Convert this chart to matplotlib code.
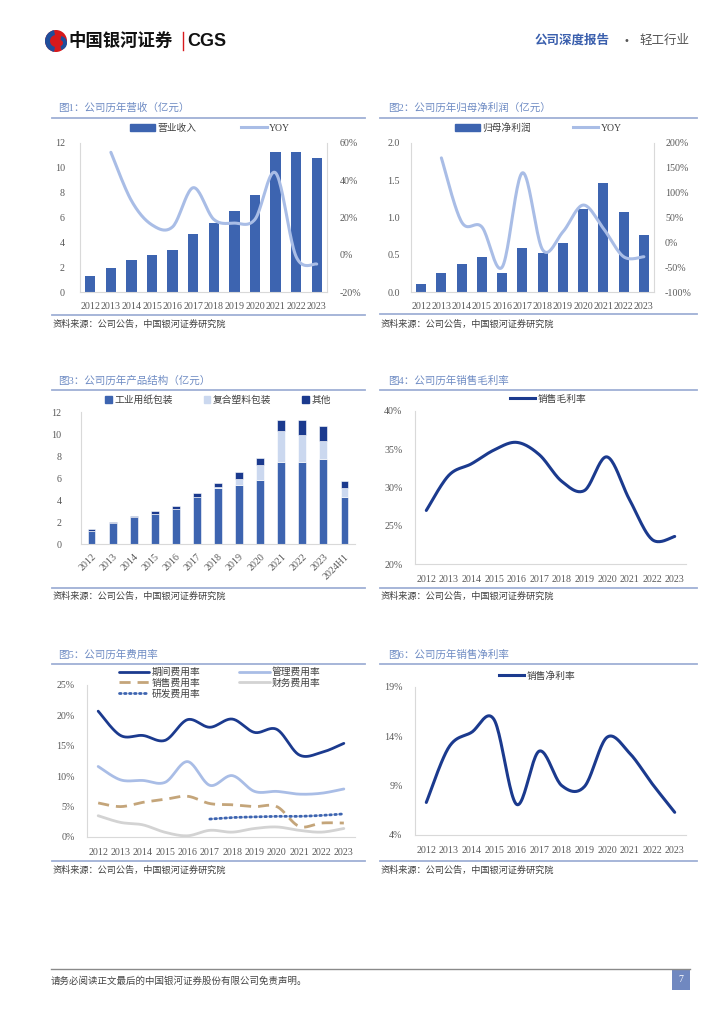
import numpy as np
import matplotlib.pyplot as plt
from matplotlib.patches import Rectangle, Circle, Wedge, Patch
from matplotlib.lines import Line2D

plt.rcParams['font.family'] = ['Liberation Serif', 'Noto Sans CJK SC', 'DejaVu Sans']
plt.rcParams['axes.unicode_minus'] = False

# ---- data ----
years = [str(y) for y in range(2012, 2024)]
years_h1 = years + ['2024H1']

revenue = [1.32, 1.96, 2.55, 2.95, 3.41, 4.64, 5.56, 6.52, 7.84, 11.27, 11.28, 10.77]
revenue_yoy = [55, 29, 16, 15, 36, 19, 17, 19, 44, -1, -5]          # 2013-2023, %

profit = [0.11, 0.26, 0.37, 0.47, 0.255, 0.59, 0.53, 0.66, 1.12, 1.46, 1.08, 0.765]
profit_yoy = [170, 41, 31, -50, 140, -15, 21, 75, 28, -29, -29]     # 2013-2023, %

paper = [1.22, 1.88, 2.42, 2.69, 3.17, 4.26, 5.05, 5.35, 5.80, 7.49, 7.43, 7.70, 4.29]
plastic = [0.00, 0.00, 0.00, 0.05, 0.00, 0.00, 0.12, 0.60, 1.42, 2.78, 2.51, 1.64, 0.81]
other = [0.10, 0.13, 0.13, 0.25, 0.27, 0.42, 0.36, 0.55, 0.57, 1.03, 1.36, 1.42, 0.67]

gross_margin = [27.0, 31.6, 33.1, 34.9, 35.9, 34.3, 30.8, 29.6, 34.0, 28.4, 23.2, 23.6]

period_exp = [20.7, 16.7, 16.7, 15.9, 19.3, 18.05, 19.4, 17.2, 17.7, 13.5, 13.9, 15.4]
admin_exp = [11.6, 9.4, 9.3, 9.0, 12.4, 8.5, 10.1, 7.5, 7.5, 7.05, 7.2, 7.9]
sales_exp = [5.6, 5.0, 5.7, 6.2, 6.7, 5.5, 5.3, 5.0, 5.0, 1.75, 2.3, 2.3]
fin_exp = [3.5, 2.4, 2.0, 0.77, 0.2, 1.1, 0.8, 1.4, 1.65, 1.1, 0.8, 1.4]
rd_exp = [2.95, 3.2, 3.3, 3.4, 3.4, 3.55, 3.8]                     # 2017-2023

net_margin = [7.3, 12.9, 14.4, 15.7, 7.1, 12.5, 9.0, 8.9, 13.9, 12.3, 9.2, 6.3]

# ---- colours ----
BAR = '#3d64b0'
LIGHT = '#a9bde6'
NAVY = '#1b3a8e'
PALE = '#cbd8ef'
TAN = '#c4a57a'
GREY = '#d3d3d3'
SPINE = '#d9d9d9'
TICK = '#595959'
TITLE = '#6f8cc4'
RULE = '#9fb0d6'

W, H = 724, 1024
fig = plt.figure(figsize=(7.24, 10.24), dpi=100)

bg = fig.add_axes([0, 0, 1, 1])
bg.set_xlim(0, W)
bg.set_ylim(H, 0)
bg.axis('off')


def px_axes(x0, y0, x1, y1):
    return fig.add_axes([x0 / W, 1 - y1 / H, (x1 - x0) / W, (y1 - y0) / H])


def smooth(xs, ys, n=24):
    # excel-like smoothed line through the points
    P = np.column_stack([xs, ys]).astype(float)
    out = []
    t = np.linspace(0, 1, n)[:, None]
    for i in range(len(P) - 1):
        p0 = P[i - 1] if i > 0 else P[i]
        p1, p2 = P[i], P[i + 1]
        p3 = P[i + 2] if i + 2 < len(P) else P[i + 1]
        c1 = p1 + (p2 - p0) / 6
        c2 = p2 - (p3 - p1) / 6
        seg = ((1 - t) ** 3) * p1 + 3 * ((1 - t) ** 2) * t * c1 + 3 * (1 - t) * t ** 2 * c2 + t ** 3 * p2
        out.append(seg if i == 0 else seg[1:])
    seg = np.vstack(out)
    return seg[:, 0], seg[:, 1]


def style(ax, right=False, pad_y=7, pad_x=6):
    for s in ['top', 'right', 'left', 'bottom']:
        ax.spines[s].set_visible(False)
    for s in ['left', 'bottom'] + (['right'] if right else []):
        ax.spines[s].set_visible(True)
        ax.spines[s].set_color(SPINE)
        ax.spines[s].set_linewidth(0.8)
    ax.tick_params(length=0, labelsize=7.2, colors=TICK)
    ax.tick_params(axis='y', pad=pad_y)
    ax.tick_params(axis='x', pad=pad_x)
    ax.set_facecolor('none')


def frame(x0, x1, title, y_title, y_rule, y_src_rule, y_src, tx):
    bg.text(tx, y_title, title, fontsize=7.6, color=TITLE, va='center', ha='left')
    bg.plot([x0, x1], [y_rule, y_rule], color=RULE, lw=1.3)
    bg.plot([x0, x1], [y_src_rule, y_src_rule], color=RULE, lw=1.3)
    bg.text(x0 + 1, y_src, '资料来源：公司公告，中国银河证券研究院', fontsize=6.6,
            color='#404040', va='center', ha='left')


def legend(ax, handles, labels, cx, cy, **kw):
    opts = dict(loc='center', bbox_to_anchor=(cx / W, 1 - cy / H), bbox_transform=fig.transFigure,
                frameon=False, fontsize=7, handletextpad=0.25, borderpad=0, borderaxespad=0)
    opts.update(kw)
    leg = ax.legend(handles, labels, **opts)
    for t in leg.get_texts():
        t.set_color('#404040')
    return leg


# ---- header ----
bg.add_patch(Circle((56, 41), 11, color='#d7191c', lw=0))
bg.add_patch(Wedge((56, 41), 11, 100, 260, width=5, color='#1f4e9c', lw=0))
bg.add_patch(Wedge((60, 43), 7, 280, 80, width=4, color='#1f4e9c', lw=0))
bg.text(68, 41, '中国银河证券', fontsize=12.5, fontweight='bold', color='#111111', va='center',
        family=['Noto Sans CJK SC'])
bg.plot([183, 183], [32, 50], color='#d7191c', lw=1)
bg.text(187, 41, 'CGS', fontsize=13, fontweight='bold', color='#111111', va='center',
        family=['Liberation Sans'])
bg.text(535, 41, '公司深度报告', fontsize=9, fontweight='bold', color='#3a5fad', va='center')
bg.text(626, 41, '•', fontsize=7, color='#555555', va='center', ha='center', family=['DejaVu Sans'])
bg.text(639, 41, '轻工行业', fontsize=9, color='#555555', va='center')

# ---- footer ----
bg.plot([51, 690], [969, 969], color='#8a8a8a', lw=1)
bg.text(51, 981, '请务必阅读正文最后的中国银河证券股份有限公司免责声明。', fontsize=6.8,
        color='#444444', va='center')
bg.add_patch(Rectangle((672, 970), 18, 20, color='#7088c0', lw=0))
bg.text(681, 980, '7', fontsize=7, color='white', va='center', ha='center')

# ---- chart frames ----
frame(52, 365, '图1：公司历年营收（亿元）', 108, 118, 315, 324, 58)
frame(380, 697, '图2：公司历年归母净利润（亿元）', 108, 118, 314, 324, 388)
frame(52, 365, '图3：公司历年产品结构（亿元）', 381, 390, 588, 596, 58)
frame(380, 697, '图4：公司历年销售毛利率', 381, 390, 588, 596, 388)
frame(52, 365, '图5：公司历年费用率', 655, 664, 861, 870, 58)
frame(380, 697, '图6：公司历年销售净利率', 655, 664, 861, 870, 388)

x12 = np.arange(len(years))

# ---- chart 1: revenue ----
ax1 = px_axes(80, 143, 327, 292)
ax1.bar(x12, revenue, width=0.5, color=BAR, zorder=2)
ax1.set_xlim(-0.5, 11.5)
ax1.set_ylim(0, 12)
ax1.set_yticks(range(0, 13, 2))
ax1.set_xticks(x12, years)
style(ax1, right=True, pad_y=11, pad_x=7)
ax1r = ax1.twinx()
sx, sy = smooth(x12[1:], revenue_yoy)
ax1r.plot(sx, sy, color=LIGHT, lw=2.2, solid_capstyle='round')
ax1r.set_ylim(-20, 60)
ax1r.set_yticks(range(-20, 61, 20), [f'{v}%' for v in range(-20, 61, 20)])
for s in ax1r.spines.values():
    s.set_visible(False)
ax1r.tick_params(length=0, labelsize=7.2, colors=TICK, pad=9)
legend(ax1r, [Patch(color=BAR), Line2D([], [], color=LIGHT, lw=2.2)], ['营业收入', 'YOY'],
       210, 128, ncol=2, handlelength=2.6, columnspacing=4.6)

# ---- chart 2: net profit ----
ax2 = px_axes(411, 143, 654, 292)
ax2.bar(x12, profit, width=0.5, color=BAR, zorder=2)
ax2.set_xlim(-0.5, 11.5)
ax2.set_ylim(0, 2.0)
ax2.set_yticks(np.arange(0, 2.01, 0.5), ['0.0', '0.5', '1.0', '1.5', '2.0'])
ax2.set_xticks(x12, years)
style(ax2, right=True, pad_y=8, pad_x=7)
ax2r = ax2.twinx()
sx, sy = smooth(x12[1:], profit_yoy)
ax2r.plot(sx, sy, color=LIGHT, lw=2.2, solid_capstyle='round')
ax2r.set_ylim(-100, 200)
ax2r.set_yticks(range(-100, 201, 50), [f'{v}%' for v in range(-100, 201, 50)])
for s in ax2r.spines.values():
    s.set_visible(False)
ax2r.tick_params(length=0, labelsize=7.2, colors=TICK, pad=8)
legend(ax2r, [Patch(color=BAR), Line2D([], [], color=LIGHT, lw=2.2)], ['归母净利润', 'YOY'],
       538, 128, ncol=2, handlelength=2.6, columnspacing=4.3)

# ---- chart 3: product structure ----
x13 = np.arange(len(years_h1))
ax3 = px_axes(81, 412, 355, 544)
b1 = ax3.bar(x13, paper, width=0.37, color=BAR, edgecolor='white', lw=0.4, zorder=2)
base = np.array(paper)
b2 = ax3.bar(x13, plastic, width=0.37, bottom=base, color=PALE, edgecolor='white', lw=0.4, zorder=2)
base = base + np.array(plastic)
b3 = ax3.bar(x13, other, width=0.37, bottom=base, color=NAVY, edgecolor='white', lw=0.4, zorder=2)
ax3.set_xlim(-0.5, 12.5)
ax3.set_ylim(0, 12)
ax3.set_yticks(range(0, 13, 2))
ax3.set_xticks(x13, years_h1, rotation=45, ha='right', rotation_mode='anchor')
style(ax3, pad_y=14, pad_x=6)
legend(ax3, [Patch(color=BAR), Patch(color=PALE), Patch(color=NAVY)],
       ['工业用纸包装', '复合塑料包装', '其他'], 218, 400, ncol=3,
       handlelength=0.7, handleheight=0.7, columnspacing=3.2)

# ---- chart 4: gross margin ----
ax4 = px_axes(415, 411, 686, 564)
sx, sy = smooth(x12, gross_margin)
ax4.plot(sx, sy, color=NAVY, lw=2.2, solid_capstyle='round')
ax4.set_xlim(-0.5, 11.5)
ax4.set_ylim(20, 40)
ax4.set_yticks(range(20, 41, 5), [f'{v}%' for v in range(20, 41, 5)])
ax4.set_xticks(x12, years)
style(ax4, pad_y=9, pad_x=8)
legend(ax4, [Line2D([], [], color=NAVY, lw=2.2)], ['销售毛利率'], 548, 399, handlelength=2.6)

# ---- chart 5: expense ratios ----
ax5 = px_axes(87, 685, 355, 837)
h = []
sx, sy = smooth(x12, period_exp)
h.append(ax5.plot(sx, sy, color=NAVY, lw=2.0, solid_capstyle='round')[0])
sx, sy = smooth(x12, sales_exp)
h.append(ax5.plot(sx, sy, color=TAN, lw=2.0, ls=(0, (4, 2.5)))[0])
sx, sy = smooth(x12[5:], rd_exp)
h.append(ax5.plot(sx, sy, color=BAR, lw=2.0, ls=(0, (0.6, 1.2)), dash_capstyle='round')[0])
sx, sy = smooth(x12, admin_exp)
h.append(ax5.plot(sx, sy, color=LIGHT, lw=2.0, solid_capstyle='round')[0])
sx, sy = smooth(x12, fin_exp)
h.append(ax5.plot(sx, sy, color=GREY, lw=2.0, solid_capstyle='round')[0])
ax5.set_xlim(-0.5, 11.5)
ax5.set_ylim(0, 25)
ax5.set_yticks(range(0, 26, 5), [f'{v}%' for v in range(0, 26, 5)])
ax5.set_xticks(x12, years)
style(ax5, pad_y=9, pad_x=8)
legend(ax5, h, ['期间费用率', '销售费用率', '研发费用率', '管理费用率', '财务费用率'],
       220, 683, ncol=2, handlelength=3.1, columnspacing=4.0, labelspacing=0.15)

# ---- chart 6: net margin ----
ax6 = px_axes(415, 687, 686, 835)
sx, sy = smooth(x12, net_margin)
ax6.plot(sx, sy, color=NAVY, lw=2.2, solid_capstyle='round')
ax6.set_xlim(-0.5, 11.5)
ax6.set_ylim(4, 19)
ax6.set_yticks(range(4, 20, 5), [f'{v}%' for v in range(4, 20, 5)])
ax6.set_xticks(x12, years)
style(ax6, pad_y=9, pad_x=8)
legend(ax6, [Line2D([], [], color=NAVY, lw=2.2)], ['销售净利率'], 537, 676, handlelength=2.6)

fig.savefig('out.png', dpi=100)
